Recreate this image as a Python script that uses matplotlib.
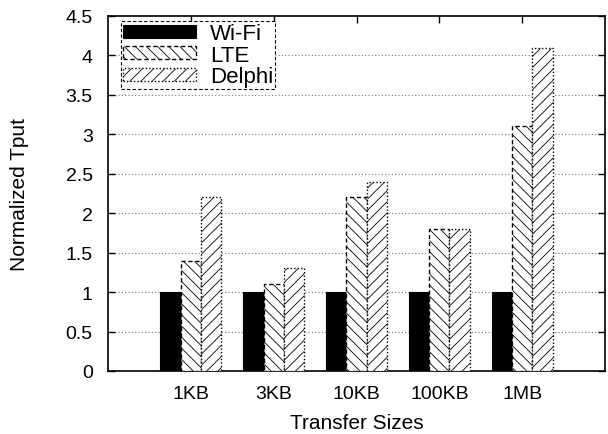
import matplotlib
matplotlib.use("Agg")
import matplotlib.pyplot as plt
import numpy as np

categories = ["1KB", "3KB", "10KB", "100KB", "1MB"]
wifi = [1.0, 1.0, 1.0, 1.0, 1.0]
lte = [1.4, 1.1, 2.2, 1.8, 3.1]
delphi = [2.2, 1.3, 2.4, 1.8, 4.1]
series_names = ["Wi-Fi", "LTE", "Delphi"]
yticks = [0, 0.5, 1, 1.5, 2, 2.5, 3, 3.5, 4, 4.5]
ytick_labels = ["0", "0.5", "1", "1.5", "2", "2.5", "3", "3.5", "4", "4.5"]

plt.rcParams['font.family'] = ['Liberation Sans', 'DejaVu Sans']
plt.rcParams['hatch.linewidth'] = 0.6
plt.rcParams['hatch.color'] = '#444444'

fig = plt.figure(figsize=(6.08, 4.35), dpi=100)
ax = fig.add_axes([108/608, 1 - 372/435, (605-108)/608, (372-17)/435])

x = np.arange(1, len(categories) + 1)
w = 0.245
ax.bar(x - w, wifi, w, color="black", edgecolor="black", linewidth=0.8,
       label=series_names[0], zorder=3)
ax.bar(x, lte, w, color="white", edgecolor="black", hatch="\\\\\\", linewidth=1.0,
       linestyle=(0, (3, 2)), label=series_names[1], zorder=3)
ax.bar(x + w, delphi, w, color="white", edgecolor="black", hatch="///", linewidth=1.0,
       linestyle=(0, (1, 1.5)), label=series_names[2], zorder=3)

ax.set_xlim(0, 6)
ax.set_ylim(0, 4.5)
ax.set_xticks(x)
ax.set_xticklabels(categories, fontsize=14)
ax.set_yticks(yticks)
ax.set_yticklabels(ytick_labels, fontsize=14)
ax.tick_params(axis='both', direction='in', top=True, right=True, length=5, width=1)
ax.tick_params(axis='x', pad=10)
ax.tick_params(axis='y', pad=11)

for y in yticks[1:-1]:
    ax.axhline(y, color="#777777", linestyle=(0, (1, 2)), linewidth=0.8, zorder=1)

for s in ax.spines.values():
    s.set_linewidth(1.2)

ax.set_ylabel("Normalized Tput", fontsize=15, labelpad=26)
ax.set_xlabel("Transfer Sizes", fontsize=15, labelpad=8)

leg = ax.legend(loc="upper left", bbox_to_anchor=(0.026, 0.986), borderaxespad=0,
                fontsize=16, handlelength=3.3, handleheight=0.55, labelspacing=0.02,
                fancybox=False, framealpha=1, edgecolor="black",
                borderpad=0.1, handletextpad=0.6)
leg.get_frame().set_linestyle((0, (3, 2)))
leg.get_frame().set_linewidth(0.8)
leg.set_zorder(5)

fig.savefig("out.png", dpi=100)
